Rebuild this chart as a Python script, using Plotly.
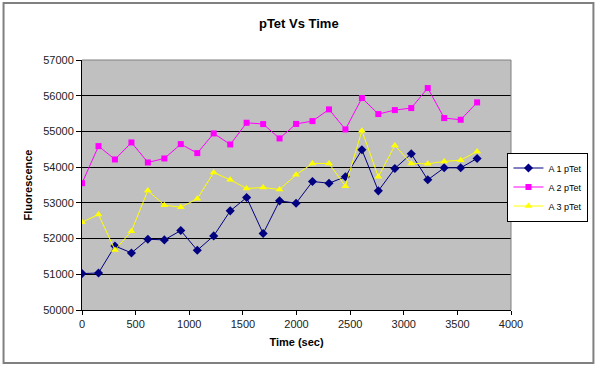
import plotly.graph_objects as go

time_sec = [0, 154, 307, 461, 614, 768, 921, 1075, 1228, 1382, 1535, 1689, 1842,
            1996, 2149, 2303, 2456, 2610, 2763, 2917, 3070, 3224, 3377, 3531, 3684]

a1_ptet = [51019, 51037, 51794, 51598, 51981, 51963, 52224, 51673, 52075, 52776,
           53150, 52140, 53056, 52991, 53598, 53551, 53729, 54486, 53336, 53963,
           54374, 53645, 53981, 53981, 54243]
a2_ptet = [53551, 54589, 54215, 54692, 54131, 54243, 54645, 54393, 54944, 54636,
           55243, 55206, 54804, 55210, 55290, 55617, 55056, 55935, 55486, 55598,
           55654, 56215, 55374, 55327, 55813]
a3_ptet = [52458, 52673, 51682, 52206, 53346, 52935, 52879, 53112, 53850, 53645,
           53402, 53430, 53374, 53785, 54103, 54103, 53467, 55019, 53729, 54607,
           54103, 54093, 54159, 54196, 54439]

series_names = ["A 1 pTet", "A 2 pTet", "A 3 pTet"]
x_ticks = [0, 500, 1000, 1500, 2000, 2500, 3000, 3500, 4000]
y_ticks = [50000, 51000, 52000, 53000, 54000, 55000, 56000, 57000]

fig = go.Figure()
fig.add_trace(go.Scatter(x=time_sec, y=a1_ptet, name=series_names[0], mode="lines+markers",
                         line=dict(color="#000080", width=1),
                         marker=dict(symbol="diamond", size=7, color="#000080")))
fig.add_trace(go.Scatter(x=time_sec, y=a2_ptet, name=series_names[1], mode="lines+markers",
                         line=dict(color="#FF00FF", width=1),
                         marker=dict(symbol="square", size=6, color="#FF00FF")))
fig.add_trace(go.Scatter(x=time_sec, y=a3_ptet, name=series_names[2], mode="lines+markers",
                         line=dict(color="#FFFF00", width=1),
                         marker=dict(symbol="triangle-up", size=7, color="#FFFF00")))

axis_font = dict(family="Liberation Sans, Arial, sans-serif", size=11, color="#222222")

fig.update_layout(
    width=600, height=369,
    margin=dict(l=82, r=86, t=60, b=59),
    paper_bgcolor="white",
    plot_bgcolor="#C0C0C0",
    font=dict(family="Liberation Sans, Arial, sans-serif", color="#000000"),
    title=dict(text="<b>pTet Vs Time</b>", x=0.498, xanchor="center",
               y=1 - 23 / 369, yanchor="middle",
               font=dict(size=13, family="Liberation Sans, Arial, sans-serif")),
    xaxis=dict(range=[0, 4000], tickvals=x_ticks, ticktext=[str(v) for v in x_ticks],
               showgrid=False, zeroline=False, showline=True, linecolor="#000000",
               linewidth=1, ticks="outside", ticklen=4, tickcolor="#000000",
               tickfont=axis_font,
               title=dict(text="<b>Time (sec)</b>", standoff=9,
                          font=dict(size=11, family="Liberation Sans, Arial, sans-serif"))),
    yaxis=dict(range=[50000, 57000], tickvals=y_ticks, ticktext=[str(v) for v in y_ticks],
               showgrid=True, gridcolor="#000000", gridwidth=1, zeroline=False,
               showline=True, linecolor="#000000", linewidth=1,
               ticks="outside", ticklen=5, tickcolor="#000000", tickfont=axis_font,
               title=dict(text="<b>Fluorescence</b>", standoff=8,
                          font=dict(size=11, family="Liberation Sans, Arial, sans-serif"))),
    legend=dict(x=(592 - 82) / 432, xanchor="right", y=(310 - 187) / 250, yanchor="middle",
                bgcolor="white", bordercolor="#000000", borderwidth=1,
                font=dict(size=9, family="Liberation Sans, Arial, sans-serif"),
                itemwidth=30, tracegroupgap=0),
    showlegend=True,
)

# plot-area border on top and right (grey, as in the reference)
fig.add_shape(type="line", xref="paper", yref="paper", x0=0, x1=1, y0=1, y1=1,
              line=dict(color="#808080", width=1), layer="above")
fig.add_shape(type="line", xref="paper", yref="paper", x0=1, x1=1, y0=0, y1=1,
              line=dict(color="#808080", width=1), layer="above")
# outer chart frame
fig.add_shape(type="rect", xref="paper", yref="paper",
              x0=(3 - 82) / 432, x1=(597 - 82) / 432,
              y0=-(363 - 310) / 250, y1=1 + (60 - 3) / 250,
              line=dict(color="#808080", width=2), fillcolor="rgba(0,0,0,0)", layer="below")

fig.write_html("out.html", config={"displayModeBar": False},
               post_script="document.body.style.margin='0';document.body.style.overflow='hidden';")
